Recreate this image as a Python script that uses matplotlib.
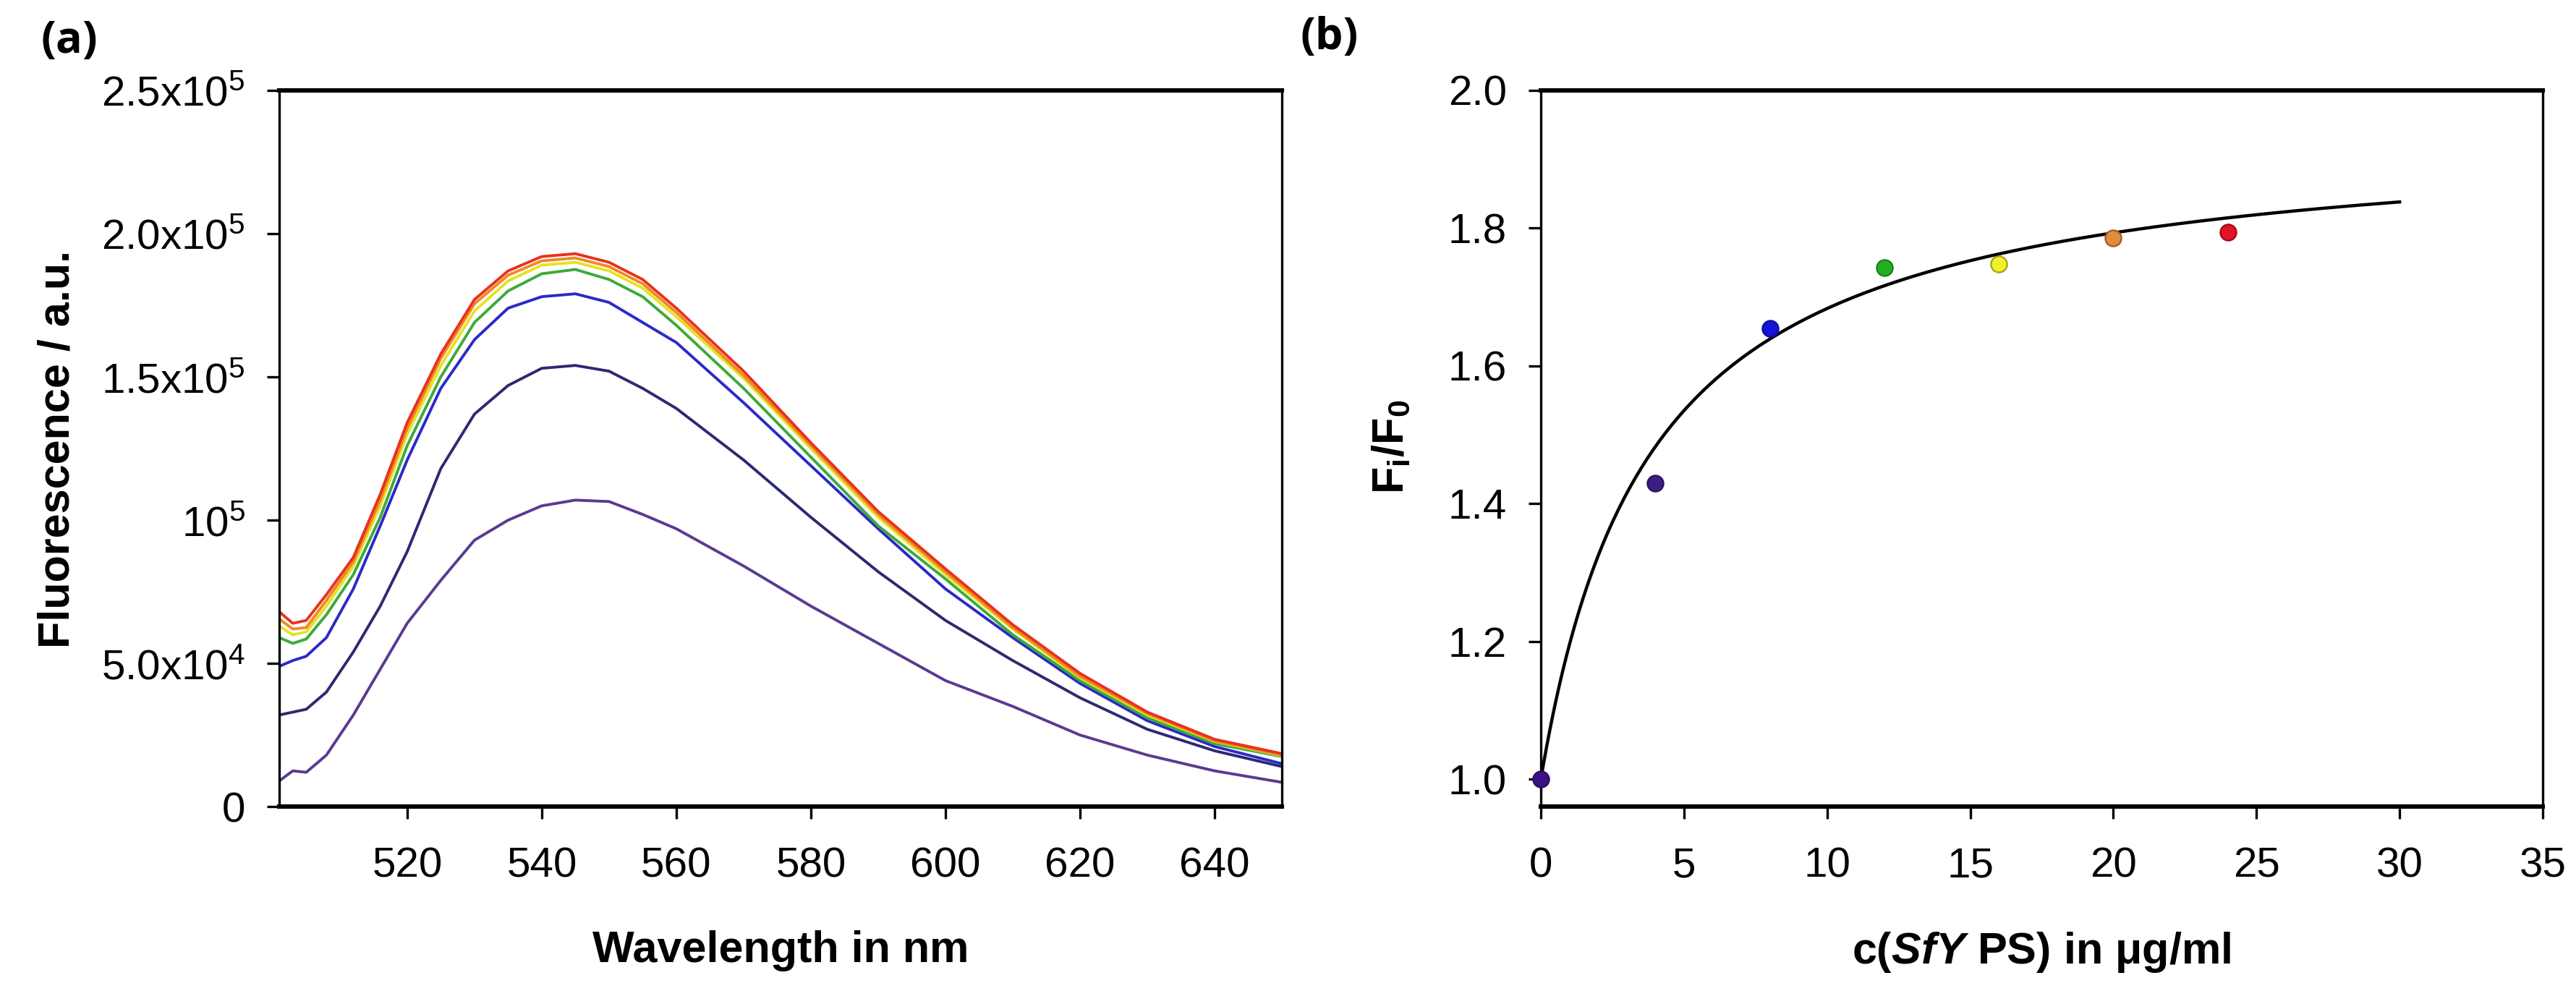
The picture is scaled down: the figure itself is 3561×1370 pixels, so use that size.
import numpy as np
import matplotlib
matplotlib.use('Agg')
import matplotlib.pyplot as plt

plt.rcParams['font.family'] = ['Liberation Sans', 'DejaVu Sans']
plt.rcParams['mathtext.fontset'] = 'custom'
plt.rcParams['mathtext.rm'] = 'Liberation Sans'
plt.rcParams['mathtext.it'] = 'Liberation Sans:italic'
plt.rcParams['mathtext.bf'] = 'Liberation Sans:bold'
plt.rcParams['mathtext.bfit'] = 'Liberation Sans:bold:italic'

# ---- panel (a): emission spectra (values in 1e3 a.u.) ----
wavelength = [501, 503, 505, 508, 512, 516, 520, 525, 530, 535, 540, 545,
              550, 555, 560, 570, 580, 590, 600, 610, 620, 630, 640, 650]

spec_purple = [9, 12.5, 12, 18, 32, 48, 64, 79, 93, 100, 105, 107,
               106.5, 102, 97, 84, 70, 57, 44, 35, 25, 18, 12.5, 8.5]
spec_navy = [32, 33, 34, 40, 54, 70, 89, 118, 137, 147, 153, 154,
             152, 146, 139, 121, 101, 82, 65, 51, 38, 27, 19.5, 14]
spec_blue = [49, 51, 52.5, 59, 76, 98, 121, 146, 163, 174, 178, 179,
             176, 169, 162, 141, 119, 97, 76, 59, 43, 30, 21, 15]
spec_green = [59, 57, 58.5, 67, 81, 101, 126, 150, 169, 180, 186, 187.5,
              184, 178, 168, 146, 122, 98, 79.5, 60, 44, 31, 22, 17.5]
spec_yellow = [63, 60, 61, 70, 84, 105, 130, 154, 173, 183.5, 189, 190,
               187, 181, 171, 149.5, 125, 101, 81, 62, 45, 32, 22.8, 17.8]
spec_orange = [65.5, 62, 62.5, 72, 85.5, 107, 132, 156.5, 175.5, 185.5, 190.5, 191.5,
               188.5, 182.5, 172.5, 150.5, 126, 102, 82, 62.5, 45.5, 32.5, 23, 18]
spec_red = [68, 64, 65, 74, 87, 109, 134, 158, 177, 187, 192, 193,
            190, 184, 174, 152, 127, 103, 83, 63.5, 46.5, 33, 23.5, 18.5]

spectra = [spec_purple, spec_navy, spec_blue, spec_green, spec_yellow, spec_orange, spec_red]
spec_colors = ['#5a3a92', '#2c2a72', '#2a2ac8', '#3caa3a', '#e4e226', '#f08a22', '#e8321e']

a_yticks = [0, 50000, 100000, 150000, 200000, 250000]
a_yticklabels = ['0', '5.0x10$^4$', '10$^5$', '1.5x10$^5$', '2.0x10$^5$', '2.5x10$^5$']
a_xticks = [520, 540, 560, 580, 600, 620, 640]

# ---- panel (b): relative fluorescence vs concentration ----
conc = [0, 4, 8, 12, 16, 20, 24]
ratio = [1.0, 1.43, 1.654, 1.743, 1.748, 1.786, 1.794]
point_colors = ['#3a1484', '#3a1e80', '#1414d2', '#22b022', '#f2f228', '#e08c3c', '#e01424']
point_edges = ['#2a0c60', '#2a1460', '#0c0ca0', '#188018', '#a0a020', '#a05a20', '#a00c18']

# hyperbolic fit: F/F0 = 1 + bmax*c/(kd + c)
fit_bmax = 0.945
fit_kd = 3.83
fit_cmax = 30

fig = plt.figure(figsize=(17.81, 6.85), dpi=200)
ax_a = fig.add_axes([0.1084, 0.186, 0.3891, 0.7228])
ax_b = fig.add_axes([0.598, 0.186, 0.3888, 0.7228])


def style_axes(ax):
    ax.spines['top'].set_linewidth(2.2)
    ax.spines['bottom'].set_linewidth(2.2)
    ax.spines['left'].set_linewidth(1.2)
    ax.spines['right'].set_linewidth(1.2)
    ax.tick_params(axis='both', direction='out', length=6, width=1.2,
                   labelsize=21, colors='black')
    ax.tick_params(axis='x', pad=14)
    ax.tick_params(axis='y', pad=11)
    ax.tick_params(right=False, top=False)


# panel (a)
wl = np.array(wavelength)
for vals, col in zip(spectra, spec_colors):
    ax_a.plot(wl, np.array(vals) * 1000, color=col, lw=1.4)
ax_a.set_xlim(501, 650)
ax_a.set_ylim(0, 250000)
ax_a.set_xticks(a_xticks)
ax_a.set_yticks(a_yticks)
ax_a.set_yticklabels(a_yticklabels)
style_axes(ax_a)
ax_a.set_xlabel('Wavelength in nm', fontsize=22, fontweight='bold', labelpad=22)
fig.text(0.0225, 0.547, 'Fluorescence / a.u.', rotation=90, fontsize=22,
         fontweight='bold', ha='center', va='center')

# panel (b)
c_fit = np.linspace(0, fit_cmax, 300)
ax_b.plot(c_fit, 1 + fit_bmax * c_fit / (fit_kd + c_fit), color='black', lw=1.6, zorder=2)
for x, y, fc, ec in zip(conc, ratio, point_colors, point_edges):
    ax_b.plot(x, y, 'o', ms=8, mfc=fc, mec=ec, mew=0.8, clip_on=False, zorder=3)
ax_b.set_xlim(0, 35)
ax_b.set_ylim(0.96, 2.0)
ax_b.set_xticks(range(0, 36, 5))
ax_b.set_yticks([1.0, 1.2, 1.4, 1.6, 1.8, 2.0])
ax_b.set_yticklabels(['1.0', '1.2', '1.4', '1.6', '1.8', '2.0'])
style_axes(ax_b)
ax_b.set_xlabel(r'$\mathbf{c(}\mathbfit{SfY}\mathbf{\ PS)\ in\ \mu g/ml}$', fontsize=22, labelpad=22)
fig.text(0.54, 0.549, r'$\mathbf{F_i/F_0}$', rotation=90, fontsize=22,
         ha='center', va='center')

# panel letters
fig.text(0.027, 0.958, '(a)', fontsize=22, fontweight='bold', family='Open Sans',
         ha='center', va='center')
fig.text(0.516, 0.962, '(b)', fontsize=22, fontweight='bold', family='Open Sans',
         ha='center', va='center')

fig.savefig('out.png', dpi=200, facecolor='white')
